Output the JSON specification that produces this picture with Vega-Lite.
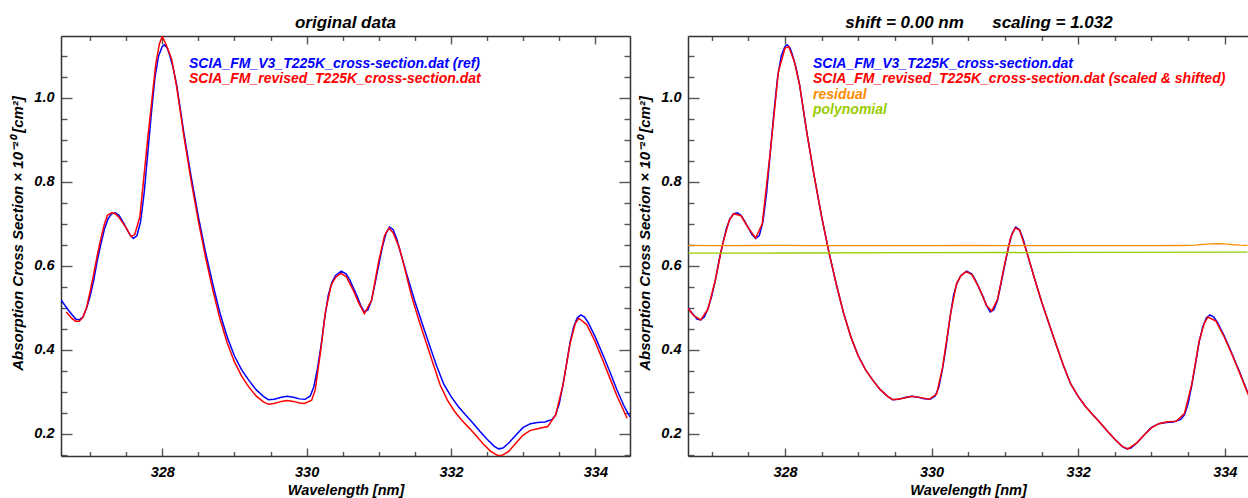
{
  "$schema": "https://vega.github.io/schema/vega-lite/v6.json",
  "autosize": "none",
  "padding": {"left": 61, "top": 36, "right": 1187, "bottom": 462},
  "bounds": "flush",
  "spacing": 58,
  "background": "#ffffff",
  "datasets": {
    "blue": [
      {"wl":326.60,"xs":0.518},{"wl":326.70,"xs":0.494},{"wl":326.80,"xs":0.473},{"wl":326.85,"xs":0.471},{"wl":326.90,"xs":0.478},{"wl":326.95,"xs":0.498},{"wl":327.00,"xs":0.527},{"wl":327.05,"xs":0.565},{"wl":327.10,"xs":0.612},{"wl":327.15,"xs":0.652},{"wl":327.20,"xs":0.688},{"wl":327.25,"xs":0.712},{"wl":327.30,"xs":0.724},{"wl":327.35,"xs":0.726},{"wl":327.40,"xs":0.720},{"wl":327.45,"xs":0.706},{"wl":327.50,"xs":0.690},{"wl":327.55,"xs":0.674},{"wl":327.60,"xs":0.665},{"wl":327.65,"xs":0.672},{"wl":327.70,"xs":0.705},{"wl":327.75,"xs":0.775},{"wl":327.80,"xs":0.870},{"wl":327.85,"xs":0.965},{"wl":327.90,"xs":1.050},{"wl":327.95,"xs":1.100},{"wl":328.00,"xs":1.122},{"wl":328.03,"xs":1.126},{"wl":328.07,"xs":1.118},{"wl":328.10,"xs":1.103},{"wl":328.15,"xs":1.072},{"wl":328.20,"xs":1.030},{"wl":328.30,"xs":0.915},{"wl":328.40,"xs":0.812},{"wl":328.50,"xs":0.717},{"wl":328.60,"xs":0.632},{"wl":328.70,"xs":0.556},{"wl":328.80,"xs":0.487},{"wl":328.90,"xs":0.430},{"wl":329.00,"xs":0.385},{"wl":329.10,"xs":0.352},{"wl":329.20,"xs":0.327},{"wl":329.30,"xs":0.305},{"wl":329.40,"xs":0.289},{"wl":329.47,"xs":0.281},{"wl":329.55,"xs":0.282},{"wl":329.65,"xs":0.287},{"wl":329.73,"xs":0.289},{"wl":329.82,"xs":0.287},{"wl":329.90,"xs":0.283},{"wl":329.98,"xs":0.282},{"wl":330.05,"xs":0.290},{"wl":330.10,"xs":0.312},{"wl":330.15,"xs":0.355},{"wl":330.20,"xs":0.410},{"wl":330.25,"xs":0.475},{"wl":330.30,"xs":0.530},{"wl":330.35,"xs":0.560},{"wl":330.40,"xs":0.577},{"wl":330.48,"xs":0.587},{"wl":330.55,"xs":0.580},{"wl":330.60,"xs":0.565},{"wl":330.70,"xs":0.527},{"wl":330.75,"xs":0.505},{"wl":330.80,"xs":0.490},{"wl":330.85,"xs":0.495},{"wl":330.90,"xs":0.518},{"wl":330.95,"xs":0.560},{"wl":331.00,"xs":0.603},{"wl":331.05,"xs":0.645},{"wl":331.10,"xs":0.677},{"wl":331.15,"xs":0.692},{"wl":331.20,"xs":0.686},{"wl":331.25,"xs":0.663},{"wl":331.30,"xs":0.632},{"wl":331.40,"xs":0.572},{"wl":331.50,"xs":0.515},{"wl":331.60,"xs":0.463},{"wl":331.70,"xs":0.412},{"wl":331.80,"xs":0.362},{"wl":331.90,"xs":0.318},{"wl":332.00,"xs":0.289},{"wl":332.10,"xs":0.265},{"wl":332.20,"xs":0.245},{"wl":332.30,"xs":0.226},{"wl":332.40,"xs":0.206},{"wl":332.50,"xs":0.187},{"wl":332.60,"xs":0.170},{"wl":332.66,"xs":0.164},{"wl":332.72,"xs":0.166},{"wl":332.80,"xs":0.178},{"wl":332.90,"xs":0.197},{"wl":333.00,"xs":0.215},{"wl":333.10,"xs":0.224},{"wl":333.20,"xs":0.227},{"wl":333.30,"xs":0.228},{"wl":333.40,"xs":0.234},{"wl":333.45,"xs":0.245},{"wl":333.50,"xs":0.272},{"wl":333.55,"xs":0.315},{"wl":333.60,"xs":0.365},{"wl":333.65,"xs":0.418},{"wl":333.70,"xs":0.455},{"wl":333.75,"xs":0.476},{"wl":333.80,"xs":0.483},{"wl":333.85,"xs":0.478},{"wl":333.90,"xs":0.465},{"wl":334.00,"xs":0.430},{"wl":334.10,"xs":0.390},{"wl":334.20,"xs":0.348},{"wl":334.30,"xs":0.304},{"wl":334.40,"xs":0.265},{"wl":334.48,"xs":0.240}
    ],
    "red0": [
      {"wl":326.67,"xs":0.490},{"wl":326.70,"xs":0.484},{"wl":326.75,"xs":0.474},{"wl":326.80,"xs":0.468},{"wl":326.85,"xs":0.468},{"wl":326.90,"xs":0.477},{"wl":326.95,"xs":0.500},{"wl":327.00,"xs":0.538},{"wl":327.05,"xs":0.580},{"wl":327.10,"xs":0.625},{"wl":327.15,"xs":0.665},{"wl":327.20,"xs":0.700},{"wl":327.24,"xs":0.720},{"wl":327.30,"xs":0.726},{"wl":327.35,"xs":0.724},{"wl":327.40,"xs":0.715},{"wl":327.50,"xs":0.690},{"wl":327.57,"xs":0.669},{"wl":327.62,"xs":0.675},{"wl":327.69,"xs":0.717},{"wl":327.80,"xs":0.905},{"wl":327.91,"xs":1.080},{"wl":327.96,"xs":1.128},{"wl":328.00,"xs":1.146},{"wl":328.05,"xs":1.128},{"wl":328.13,"xs":1.092},{"wl":328.20,"xs":1.025},{"wl":328.30,"xs":0.908},{"wl":328.40,"xs":0.802},{"wl":328.50,"xs":0.706},{"wl":328.60,"xs":0.620},{"wl":328.70,"xs":0.542},{"wl":328.80,"xs":0.473},{"wl":328.90,"xs":0.416},{"wl":329.00,"xs":0.371},{"wl":329.10,"xs":0.337},{"wl":329.20,"xs":0.311},{"wl":329.30,"xs":0.290},{"wl":329.40,"xs":0.276},{"wl":329.47,"xs":0.270},{"wl":329.55,"xs":0.272},{"wl":329.65,"xs":0.277},{"wl":329.73,"xs":0.279},{"wl":329.82,"xs":0.277},{"wl":329.90,"xs":0.273},{"wl":329.97,"xs":0.272},{"wl":330.07,"xs":0.280},{"wl":330.12,"xs":0.305},{"wl":330.20,"xs":0.405},{"wl":330.26,"xs":0.490},{"wl":330.34,"xs":0.554},{"wl":330.40,"xs":0.572},{"wl":330.47,"xs":0.582},{"wl":330.55,"xs":0.574},{"wl":330.65,"xs":0.540},{"wl":330.72,"xs":0.512},{"wl":330.80,"xs":0.486},{"wl":330.90,"xs":0.518},{"wl":331.00,"xs":0.612},{"wl":331.08,"xs":0.672},{"wl":331.14,"xs":0.690},{"wl":331.20,"xs":0.678},{"wl":331.28,"xs":0.645},{"wl":331.35,"xs":0.600},{"wl":331.45,"xs":0.530},{"wl":331.55,"xs":0.473},{"wl":331.65,"xs":0.420},{"wl":331.75,"xs":0.368},{"wl":331.85,"xs":0.316},{"wl":331.95,"xs":0.280},{"wl":332.05,"xs":0.253},{"wl":332.15,"xs":0.232},{"wl":332.25,"xs":0.214},{"wl":332.35,"xs":0.195},{"wl":332.45,"xs":0.175},{"wl":332.55,"xs":0.158},{"wl":332.65,"xs":0.148},{"wl":332.70,"xs":0.148},{"wl":332.80,"xs":0.158},{"wl":332.90,"xs":0.178},{"wl":333.00,"xs":0.197},{"wl":333.10,"xs":0.208},{"wl":333.20,"xs":0.212},{"wl":333.34,"xs":0.217},{"wl":333.45,"xs":0.245},{"wl":333.55,"xs":0.315},{"wl":333.65,"xs":0.415},{"wl":333.72,"xs":0.462},{"wl":333.77,"xs":0.475},{"wl":333.88,"xs":0.460},{"wl":334.00,"xs":0.418},{"wl":334.10,"xs":0.376},{"wl":334.20,"xs":0.333},{"wl":334.30,"xs":0.290},{"wl":334.44,"xs":0.237}
    ],
    "red1": [
      {"wl":326.68,"xs":0.498},{"wl":326.75,"xs":0.482},{"wl":326.85,"xs":0.471},{"wl":326.95,"xs":0.497},{"wl":327.05,"xs":0.566},{"wl":327.15,"xs":0.652},{"wl":327.24,"xs":0.708},{"wl":327.30,"xs":0.724},{"wl":327.40,"xs":0.719},{"wl":327.50,"xs":0.690},{"wl":327.60,"xs":0.666},{"wl":327.69,"xs":0.700},{"wl":327.80,"xs":0.872},{"wl":327.91,"xs":1.062},{"wl":328.00,"xs":1.118},{"wl":328.05,"xs":1.122},{"wl":328.13,"xs":1.085},{"wl":328.20,"xs":1.030},{"wl":328.30,"xs":0.915},{"wl":328.40,"xs":0.812},{"wl":328.50,"xs":0.717},{"wl":328.60,"xs":0.632},{"wl":328.70,"xs":0.556},{"wl":328.80,"xs":0.487},{"wl":328.90,"xs":0.430},{"wl":329.00,"xs":0.385},{"wl":329.10,"xs":0.352},{"wl":329.20,"xs":0.327},{"wl":329.30,"xs":0.305},{"wl":329.40,"xs":0.289},{"wl":329.47,"xs":0.281},{"wl":329.60,"xs":0.284},{"wl":329.73,"xs":0.289},{"wl":329.85,"xs":0.286},{"wl":329.97,"xs":0.282},{"wl":330.07,"xs":0.295},{"wl":330.15,"xs":0.358},{"wl":330.26,"xs":0.486},{"wl":330.34,"xs":0.557},{"wl":330.40,"xs":0.576},{"wl":330.47,"xs":0.586},{"wl":330.55,"xs":0.579},{"wl":330.65,"xs":0.547},{"wl":330.75,"xs":0.505},{"wl":330.82,"xs":0.492},{"wl":330.90,"xs":0.520},{"wl":331.00,"xs":0.606},{"wl":331.08,"xs":0.668},{"wl":331.14,"xs":0.690},{"wl":331.20,"xs":0.685},{"wl":331.30,"xs":0.632},{"wl":331.40,"xs":0.572},{"wl":331.50,"xs":0.515},{"wl":331.60,"xs":0.463},{"wl":331.70,"xs":0.412},{"wl":331.80,"xs":0.362},{"wl":331.90,"xs":0.318},{"wl":332.00,"xs":0.289},{"wl":332.10,"xs":0.265},{"wl":332.20,"xs":0.245},{"wl":332.30,"xs":0.226},{"wl":332.40,"xs":0.206},{"wl":332.50,"xs":0.187},{"wl":332.60,"xs":0.170},{"wl":332.68,"xs":0.164},{"wl":332.80,"xs":0.178},{"wl":332.90,"xs":0.197},{"wl":333.00,"xs":0.214},{"wl":333.10,"xs":0.224},{"wl":333.20,"xs":0.228},{"wl":333.34,"xs":0.230},{"wl":333.45,"xs":0.248},{"wl":333.55,"xs":0.318},{"wl":333.65,"xs":0.420},{"wl":333.72,"xs":0.463},{"wl":333.77,"xs":0.478},{"wl":333.88,"xs":0.468},{"wl":334.00,"xs":0.428},{"wl":334.10,"xs":0.388},{"wl":334.20,"xs":0.346},{"wl":334.30,"xs":0.302},{"wl":334.40,"xs":0.262}
    ],
    "res": [
      {"wl":326.68,"xs":0.6485},{"wl":327.00,"xs":0.6480},{"wl":327.30,"xs":0.6478},{"wl":327.60,"xs":0.6482},{"wl":328.00,"xs":0.6485},{"wl":328.30,"xs":0.6480},{"wl":328.70,"xs":0.6478},{"wl":329.00,"xs":0.6480},{"wl":329.50,"xs":0.6478},{"wl":330.00,"xs":0.6480},{"wl":330.50,"xs":0.6482},{"wl":331.00,"xs":0.6480},{"wl":331.50,"xs":0.6478},{"wl":332.00,"xs":0.6480},{"wl":332.50,"xs":0.6478},{"wl":333.00,"xs":0.6480},{"wl":333.40,"xs":0.6482},{"wl":333.60,"xs":0.6490},{"wl":333.70,"xs":0.6510},{"wl":333.80,"xs":0.6520},{"wl":333.90,"xs":0.6525},{"wl":334.00,"xs":0.6520},{"wl":334.10,"xs":0.6505},{"wl":334.20,"xs":0.6490},{"wl":334.31,"xs":0.6485}
    ],
    "poly": [
      {"wl":326.68,"xs":0.6298},{"wl":328.00,"xs":0.6303},{"wl":330.00,"xs":0.6310},{"wl":332.00,"xs":0.6318},{"wl":334.31,"xs":0.6326}
    ]
  },
  "hconcat": [
    {
      "width": 569,
      "height": 420,
      "title": {"text": "original data", "anchor": "middle", "baseline": "alphabetic", "offset": -10},
      "layer": [
        {
          "data": {"name": "blue"},
          "mark": {"type": "line", "clip": true, "strokeWidth": 1.5},
          "encoding": {
            "x": {"field": "wl", "type": "quantitative", "scale": {"domain": [326.597, 334.48], "nice": false, "zero": false},
              "axis": {"orient": "bottom", "values": [327,327.5,328,328.5,329,329.5,330,330.5,331,331.5,332,332.5,333,333.5,334],
                "tickSize": {"condition": {"test": "datum.value % 2 === 0", "value": -8}, "value": -4.5},
                "labelExpr": "datum.value % 2 === 0 ? format(datum.value, 'd') : ''", "labelPadding": 17,
                "title": "Wavelength [nm]", "titlePadding": 1}},
            "y": {"field": "xs", "type": "quantitative", "scale": {"domain": [0.147, 1.147], "nice": false, "zero": false},
              "axis": {"orient": "left", "values": [0.15,0.2,0.25,0.3,0.35,0.4,0.45,0.5,0.55,0.6,0.65,0.7,0.75,0.8,0.85,0.9,0.95,1.0,1.05,1.1],
                "tickSize": {"condition": {"test": "abs(datum.value*5 - round(datum.value*5)) < 0.001", "value": -11}, "value": -6},
                "labelExpr": "abs(datum.value*5 - round(datum.value*5)) < 0.001 ? format(datum.value, '.1f') : ''", "labelPadding": 18,
                "title": "Absorption Cross Section × 10⁻²⁰ [cm²]", "titlePadding": 8, "titleFontSize": 15, "titleY": 197}},
            "color": {"datum": "ref", "type": "nominal", "scale": {"domain": ["ref", "rev"], "range": ["#0000ff", "#ff0000"]},
              "legend": {"orient": "none", "legendX": 114, "legendY": 21, "title": null, "symbolSize": 0, "symbolOpacity": 0, "symbolStrokeWidth": 0, "labelOffset": 0, "labelLimit": 800, "rowPadding": 1.3, "padding": 0,
                "labelExpr": "datum.value === 'ref' ? 'SCIA_FM_V3_T225K_cross-section.dat (ref)' : 'SCIA_FM_revised_T225K_cross-section.dat'",
                "encode": {"labels": {"update": {"fill": {"signal": "datum.value === 'ref' ? '#0000ff' : '#ff0000'"}}}}}}
          }
        },
        {
          "data": {"name": "red0"},
          "mark": {"type": "line", "clip": true, "strokeWidth": 1.5},
          "encoding": {
            "x": {"field": "wl", "type": "quantitative", "scale": {"domain": [326.597, 334.48], "nice": false, "zero": false},
              "axis": {"orient": "top", "values": [327,327.5,328,328.5,329,329.5,330,330.5,331,331.5,332,332.5,333,333.5,334],
                "tickSize": {"condition": {"test": "datum.value % 2 === 0", "value": -8}, "value": -4.5},
                "labels": false, "title": null}},
            "y": {"field": "xs", "type": "quantitative", "scale": {"domain": [0.147, 1.147], "nice": false, "zero": false},
              "axis": {"orient": "right", "values": [0.15,0.2,0.25,0.3,0.35,0.4,0.45,0.5,0.55,0.6,0.65,0.7,0.75,0.8,0.85,0.9,0.95,1.0,1.05,1.1],
                "tickSize": {"condition": {"test": "abs(datum.value*5 - round(datum.value*5)) < 0.001", "value": -11}, "value": -6},
                "labels": false, "title": null}},
            "color": {"datum": "rev", "type": "nominal", "scale": {"domain": ["ref", "rev"], "range": ["#0000ff", "#ff0000"]},
              "legend": {"orient": "none", "legendX": 114, "legendY": 21, "title": null, "symbolSize": 0, "symbolOpacity": 0, "symbolStrokeWidth": 0, "labelOffset": 0, "labelLimit": 800, "rowPadding": 1.3, "padding": 0,
                "labelExpr": "datum.value === 'ref' ? 'SCIA_FM_V3_T225K_cross-section.dat (ref)' : 'SCIA_FM_revised_T225K_cross-section.dat'",
                "encode": {"labels": {"update": {"fill": {"signal": "datum.value === 'ref' ? '#0000ff' : '#ff0000'"}}}}}}
          }
        }
      ],
      "resolve": {"axis": {"x": "independent", "y": "independent"}}
    },
    {
      "width": 560,
      "height": 420,
      "title": {"text": "shift = 0.00 nm\u00a0\u00a0\u00a0\u00a0\u00a0\u00a0scaling = 1.032", "anchor": "middle", "baseline": "alphabetic", "offset": -10, "dx": 11},
      "layer": [
        {
          "data": {"name": "blue"},
          "mark": {"type": "line", "clip": true, "strokeWidth": 1.5},
          "encoding": {
            "x": {"field": "wl", "type": "quantitative", "scale": {"domain": [326.677, 334.317], "nice": false, "zero": false},
              "axis": {"orient": "bottom", "values": [327,327.5,328,328.5,329,329.5,330,330.5,331,331.5,332,332.5,333,333.5,334],
                "tickSize": {"condition": {"test": "datum.value % 2 === 0", "value": -8}, "value": -4.5},
                "labelExpr": "datum.value % 2 === 0 ? format(datum.value, 'd') : ''", "labelPadding": 17,
                "title": "Wavelength [nm]", "titlePadding": 1}},
            "y": {"field": "xs", "type": "quantitative", "scale": {"domain": [0.147, 1.147], "nice": false, "zero": false},
              "axis": {"orient": "left", "values": [0.15,0.2,0.25,0.3,0.35,0.4,0.45,0.5,0.55,0.6,0.65,0.7,0.75,0.8,0.85,0.9,0.95,1.0,1.05,1.1],
                "tickSize": {"condition": {"test": "abs(datum.value*5 - round(datum.value*5)) < 0.001", "value": -11}, "value": -6},
                "labelExpr": "abs(datum.value*5 - round(datum.value*5)) < 0.001 ? format(datum.value, '.1f') : ''", "labelPadding": 18,
                "title": "Absorption Cross Section × 10⁻²⁰ [cm²]", "titlePadding": 8, "titleFontSize": 15, "titleY": 197}},
            "color": {"datum": "ref", "type": "nominal", "scale": {"domain": ["ref", "rev", "res", "poly"], "range": ["#0000ff", "#ff0000", "#ff8c00", "#99cc00"]},
              "legend": {"orient": "none", "legendX": 111, "legendY": 21, "title": null, "symbolSize": 0, "symbolOpacity": 0, "symbolStrokeWidth": 0, "labelOffset": 0, "labelLimit": 800, "rowPadding": 1.3, "padding": 0,
                "labelExpr": "datum.value === 'ref' ? 'SCIA_FM_V3_T225K_cross-section.dat' : datum.value === 'rev' ? 'SCIA_FM_revised_T225K_cross-section.dat (scaled & shifted)' : datum.value === 'res' ? 'residual' : 'polynomial'",
                "encode": {"labels": {"update": {"fill": {"signal": "datum.value === 'ref' ? '#0000ff' : datum.value === 'rev' ? '#ff0000' : datum.value === 'res' ? '#ff8c00' : '#99cc00'"}}}}}}
          }
        },
        {
          "data": {"name": "red1"},
          "mark": {"type": "line", "clip": true, "strokeWidth": 1.5},
          "encoding": {
            "x": {"field": "wl", "type": "quantitative", "scale": {"domain": [326.677, 334.317], "nice": false, "zero": false},
              "axis": {"orient": "top", "values": [327,327.5,328,328.5,329,329.5,330,330.5,331,331.5,332,332.5,333,333.5,334],
                "tickSize": {"condition": {"test": "datum.value % 2 === 0", "value": -8}, "value": -4.5},
                "labels": false, "title": null}},
            "y": {"field": "xs", "type": "quantitative", "scale": {"domain": [0.147, 1.147], "nice": false, "zero": false}, "axis": null},
            "color": {"datum": "rev", "type": "nominal"}
          }
        },
        {
          "data": {"name": "res"},
          "mark": {"type": "line", "clip": true, "strokeWidth": 1.3},
          "encoding": {
            "x": {"field": "wl", "type": "quantitative", "axis": null},
            "y": {"field": "xs", "type": "quantitative", "axis": null},
            "color": {"datum": "res", "type": "nominal"}
          }
        },
        {
          "data": {"name": "poly"},
          "mark": {"type": "line", "clip": true, "strokeWidth": 1.3},
          "encoding": {
            "x": {"field": "wl", "type": "quantitative", "axis": null},
            "y": {"field": "xs", "type": "quantitative", "axis": null},
            "color": {"datum": "poly", "type": "nominal"}
          }
        }
      ],
      "resolve": {"axis": {"x": "independent", "y": "independent"}}
    }
  ],
  "resolve": {"scale": {"x": "independent", "y": "independent", "color": "independent"}, "legend": {"color": "independent"}},
  "config": {
    "view": {"stroke": null},
    "font": "Liberation Sans",
    "axis": {"grid": false, "domainColor": "#333333", "domainWidth": 1.5, "tickColor": "#555555", "tickWidth": 1.4,
      "labelFont": "Liberation Sans", "labelFontSize": 14.5, "labelFontStyle": "italic", "labelFontWeight": "bold", "labelColor": "#000000",
      "titleFont": "Liberation Sans", "titleFontSize": 14.5, "titleFontStyle": "italic", "titleFontWeight": "bold", "titleColor": "#000000",
      "labelOverlap": false, "labelFlush": false, "labelBound": false},
    "legend": {"labelFont": "Liberation Sans", "labelFontSize": 14, "labelFontStyle": "italic", "labelFontWeight": "bold"},
    "title": {"font": "Liberation Sans", "fontSize": 17, "fontStyle": "italic", "fontWeight": "bold", "color": "#000000"}
  }
}
